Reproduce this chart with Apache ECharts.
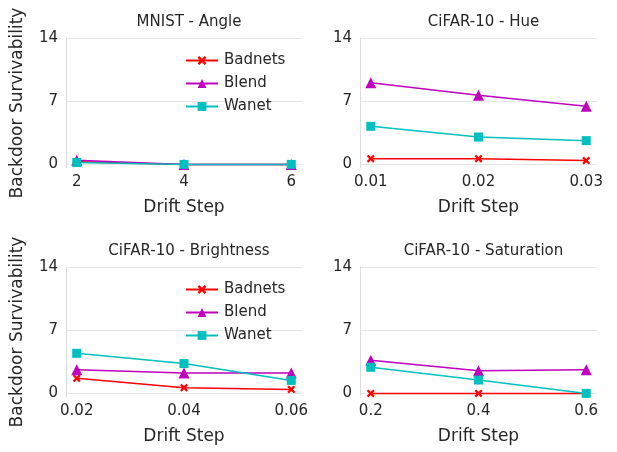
<!DOCTYPE html>
<html>
<head>
<meta charset="utf-8">
<script src="https://cdn.jsdelivr.net/npm/echarts@6/dist/echarts.min.js"></script>
<style>
  html, body { margin: 0; padding: 0; background: #fff; }
  #chart { width: 617px; height: 452px; }
</style>
</head>
<body>
<div id="chart"></div>
<script>
  // panel titles and x steps
  const titles = ['MNIST - Angle', 'CiFAR-10 - Hue', 'CiFAR-10 - Brightness', 'CiFAR-10 - Saturation']
  const steps = [
    [2, 4, 6],
    [0.01, 0.02, 0.03],
    [0.02, 0.04, 0.06],
    [0.2, 0.4, 0.6]
  ]
  const yTicks = [0, 7, 14]
  const seriesNames = ['Badnets', 'Blend', 'Wanet']

  // values per panel
  const badnets = [
    [0.3, 0, 0],
    [0.63, 0.63, 0.42],
    [1.67, 0.63, 0.44],
    [0, 0, 0]
  ]
  const blend = [
    [0.45, 0, 0],
    [9.03, 7.67, 6.44],
    [2.63, 2.26, 2.26],
    [3.67, 2.52, 2.63]
  ]
  const wanet = [
    [0.2, 0, 0],
    [4.22, 3.03, 2.63],
    [4.44, 3.3, 1.44],
    [2.89, 1.48, 0]
  ]

  const colors = ['#ff0000', '#bf00bf', '#00bfbf']
  const xMark = 'path://M0,2 L2,0 L5,3 L8,0 L10,2 L7,5 L10,8 L8,10 L5,7 L2,10 L0,8 L3,5 Z'
  const symbols = [xMark, 'triangle', 'rect']
  const symbolSizes = [8, 11, 9]
  const textColor = '#262626'
  const font = 'DejaVu Sans'

  const grids = [
    { left: 66, top: 38, width: 236, height: 130 },
    { left: 360, top: 38, width: 237, height: 130 },
    { left: 66, top: 267, width: 236, height: 130 },
    { left: 360, top: 267, width: 237, height: 130 }
  ]

  const chart = echarts.init(document.getElementById('chart'))

  const xAxis = steps.map((s, i) => {
    const pad = (s[2] - s[0]) * 0.05
    return {
      type: 'value',
      gridIndex: i,
      min: s[0] - pad,
      max: s[2] + pad,
      name: 'Drift Step',
      nameLocation: 'middle',
      nameGap: 31,
      nameTextStyle: { fontSize: 17, color: textColor, fontFamily: font },
      axisLine: { show: false },
      axisTick: { show: false, customValues: s },
      splitLine: { show: false },
      axisLabel: {
        customValues: s,
        margin: 7,
        fontSize: 15,
        color: textColor,
        fontFamily: font,
        formatter: (v) => String(+v.toFixed(4))
      }
    }
  })

  const yAxis = steps.map((s, i) => ({
    type: 'value',
    gridIndex: i,
    min: -0.4,
    max: 14,
    name: i % 2 === 0 ? 'Backdoor Survivability' : '',
    nameLocation: 'middle',
    nameRotate: 90,
    nameGap: 40,
    nameTextStyle: { fontSize: 17, color: textColor, fontFamily: font },
    axisLine: { show: true, onZero: false, lineStyle: { color: '#dcdcdc', width: 1 } },
    axisTick: { show: false, customValues: yTicks },
    axisLabel: {
      customValues: yTicks,
      margin: 8,
      fontSize: 15,
      color: textColor,
      fontFamily: font
    },
    splitLine: { show: true, lineStyle: { color: '#e6e6e6', width: 1 } }
  }))

  const allData = [badnets, blend, wanet]
  const series = []
  for (let p = 0; p < 4; p++) {
    allData.forEach((d, k) => {
      series.push({
        name: seriesNames[k],
        type: 'line',
        xAxisIndex: p,
        yAxisIndex: p,
        data: steps[p].map((x, j) => [x, d[p][j]]),
        symbol: symbols[k],
        symbolSize: symbolSizes[k],
        showAllSymbol: true,
        clip: false,
        lineStyle: { color: colors[k], width: 1.5 },
        itemStyle: { color: colors[k] },
        emphasis: { disabled: true },
        z: 2 + k
      })
    })
  }

  const title = titles.map((t, i) => ({
    text: t,
    left: grids[i].left + grids[i].width / 2,
    top: grids[i].top - 28,
    textAlign: 'center',
    textStyle: { fontSize: 15, fontWeight: 'normal', color: textColor, fontFamily: font }
  }))

  const legendBase = {
    data: seriesNames,
    orient: 'vertical',
    left: 180,
    itemWidth: 32,
    itemHeight: 11,
    itemGap: 8,
    textStyle: { fontSize: 15, color: textColor, fontFamily: font, lineHeight: 15, padding: [0, 0, 0, 1] },
    selectedMode: false
  }

  chart.setOption({
    animation: false,
    backgroundColor: '#fff',
    title: title,
    grid: grids,
    xAxis: xAxis,
    yAxis: yAxis,
    legend: [
      Object.assign({}, legendBase, { top: 48 }),
      Object.assign({}, legendBase, { top: 277 })
    ],
    series: series
  })
</script>
</body>
</html>
